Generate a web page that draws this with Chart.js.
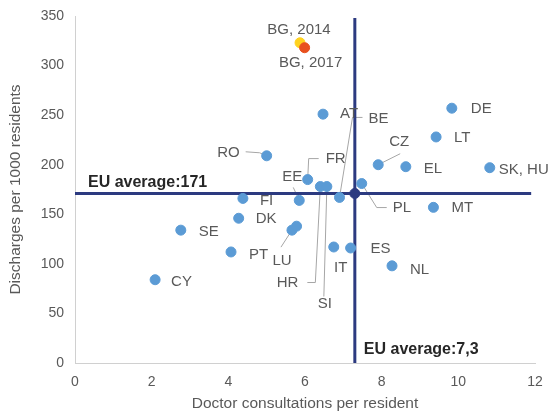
<!DOCTYPE html>
<html>
<head>
<meta charset="utf-8">
<script src="https://cdn.jsdelivr.net/npm/chart.js@4"></script>
<style>
  html, body { margin: 0; padding: 0; background: #fff; }
  #wrap { width: 549px; height: 416px; }
</style>
</head>
<body>
<div id="wrap"><canvas id="grafico"></canvas></div>
<script>
// country values
const paises = ['AT', 'BE', 'CY', 'CZ', 'DE', 'DK', 'EE', 'EL', 'ES', 'FI', 'FR', 'HR', 'IT', 'LT',
                'LU', 'LV', 'MT', 'NL', 'PL', 'PT', 'RO', 'SE', 'SI', 'SK, HU'];
const consultas = [6.47, 6.90, 2.09, 7.91, 9.83, 4.27, 5.85, 8.63, 7.19, 4.38, 6.07, 6.40, 6.75, 9.42,
                   5.66, 5.78, 9.35, 8.27, 7.48, 4.07, 5.00, 2.76, 6.57, 10.82];
const altas = [251, 167, 84, 200, 257, 146, 164, 198, 116, 166, 185, 178, 117, 228,
               134, 138, 157, 98, 181, 112, 209, 134, 178, 197];

const bg2014 = [5.87, 323];
const bg2017 = [5.99, 318];
const mediaConsultas = 7.3;
const mediaAltas = 171;

const ticksX = [0, 2, 4, 6, 8, 10, 12];
const ticksY = [0, 50, 100, 150, 200, 250, 300, 350];

const FONTE = "'Liberation Sans', Arial, sans-serif";
const CINZA = '#595959';
const AZUL = '#5B9BD5';
const NAVY = '#2C3A80';

// where each label sits relative to its point (px), and its leader line
const rotulos = {
  'AT': { dx: 17, dy: 0 },
  'BE': { dx: 29, dy: -79, linha: [[23, -80], [13, -80], [0, 0]] },
  'CY': { dx: 16, dy: 2 },
  'CZ': { dx: 21, dy: -23, al: 'center', linha: [[22, -11], [0, 0]] },
  'DE': { dx: 19, dy: 1 },
  'DK': { dx: 17, dy: 1 },
  'EE': { dx: -7, dy: -24, al: 'center', linha: [[-6, -13], [0, 0]] },
  'EL': { dx: 18, dy: 2 },
  'ES': { dx: 20, dy: 1 },
  'FI': { dx: 17, dy: 2 },
  'FR': { dx: 18, dy: -21, linha: [[11, -21], [1, -21], [0, 0]] },
  'HR': { dx: -22, dy: 96, al: 'right', linha: [[-13, 96], [-5, 96], [0, 0]] },
  'IT': { dx: 7, dy: 21, al: 'center' },
  'LT': { dx: 18, dy: 1 },
  'LU': { dx: -10, dy: 31, al: 'center', linha: [[-11, 17], [0, 0]] },
  'MT': { dx: 18, dy: 1 },
  'NL': { dx: 18, dy: 4 },
  'PL': { dx: 31, dy: 24, linha: [[25, 24], [15, 24], [0, 0]] },
  'PT': { dx: 18, dy: 3 },
  'RO': { dx: -27, dy: -3, al: 'right', linha: [[-21, -4], [-7, -3], [0, 0]] },
  'SE': { dx: 18, dy: 2 },
  'SI': { dx: -2, dy: 117, al: 'center', linha: [[-3, 110], [0, 0]] },
  'SK, HU': { dx: 9, dy: 2 }
};

const pontos = paises.map((p, i) => ({ x: consultas[i], y: altas[i] }));

const rotulosPlugin = {
  id: 'rotulos',
  beforeDatasetsDraw(chart) {
    const ctx = chart.ctx;
    const meta = chart.getDatasetMeta(0);
    ctx.save();
    ctx.strokeStyle = '#A6A6A6';
    ctx.lineWidth = 1;
    paises.forEach((p, i) => {
      const r = rotulos[p];
      if (!r || !r.linha) return;
      const pt = meta.data[i];
      ctx.beginPath();
      r.linha.forEach((c, k) => {
        const x = pt.x + c[0], y = pt.y + c[1];
        if (k === 0) ctx.moveTo(x, y); else ctx.lineTo(x, y);
      });
      ctx.stroke();
    });
    ctx.restore();
  },
  afterDatasetsDraw(chart) {
    const ctx = chart.ctx;
    const meta = chart.getDatasetMeta(0);
    ctx.save();
    ctx.font = '15px ' + FONTE;
    ctx.fillStyle = CINZA;
    ctx.textBaseline = 'middle';
    paises.forEach((p, i) => {
      const r = rotulos[p];
      if (!r) return;
      const pt = meta.data[i];
      ctx.textAlign = r.al || 'left';
      ctx.fillText(p, pt.x + r.dx, pt.y + r.dy);
    });
    const b1 = chart.getDatasetMeta(2).data[0];
    const b2 = chart.getDatasetMeta(1).data[0];
    ctx.textAlign = 'center';
    ctx.fillText('BG, 2014', b1.x - 1, b1.y - 13);
    ctx.fillText('BG, 2017', b2.x + 6, b2.y + 15);

    const sx = chart.scales.x, sy = chart.scales.y;
    ctx.font = 'bold 16px ' + FONTE;
    ctx.fillStyle = '#262626';
    ctx.textAlign = 'left';
    ctx.fillText('EU average:' + mediaAltas, sx.left + 13, sy.getPixelForValue(mediaAltas) - 11);
    ctx.fillText('EU average:' + String(mediaConsultas).replace('.', ','),
      sx.getPixelForValue(mediaConsultas) + 9, sy.bottom - 13);
    ctx.restore();
  }
};

new Chart(document.getElementById('grafico'), {
  type: 'scatter',
  data: {
    datasets: [
      {
        label: 'Países',
        data: pontos,
        backgroundColor: AZUL,
        borderColor: AZUL,
        pointRadius: 5,
        order: 1
      },
      {
        label: 'BG 2017',
        data: [{ x: bg2017[0], y: bg2017[1] }],
        backgroundColor: '#E8501E',
        borderColor: '#E8501E',
        pointRadius: 5,
        order: 0
      },
      {
        label: 'BG 2014',
        data: [{ x: bg2014[0], y: bg2014[1] }],
        backgroundColor: '#FFD21F',
        borderColor: '#FFD21F',
        pointRadius: 5,
        order: 0.5
      },
      {
        label: 'EU',
        data: [{ x: mediaConsultas, y: mediaAltas }],
        backgroundColor: NAVY,
        borderColor: NAVY,
        pointRadius: 5,
        order: 1.5
      },
      {
        label: 'Média altas',
        data: [{ x: 0, y: mediaAltas }, { x: 11.9, y: mediaAltas }],
        showLine: true,
        borderColor: NAVY,
        borderWidth: 3,
        pointRadius: 0,
        order: 2
      },
      {
        label: 'Média consultas',
        data: [{ x: mediaConsultas, y: 0 }, { x: mediaConsultas, y: 348 }],
        showLine: true,
        borderColor: NAVY,
        borderWidth: 3,
        pointRadius: 0,
        order: 2
      }
    ]
  },
  options: {
    responsive: true,
    maintainAspectRatio: false,
    animation: false,
    layout: { padding: { top: 16, right: 14, left: 0, bottom: 0 } },
    plugins: {
      legend: { display: false },
      tooltip: { enabled: false }
    },
    scales: {
      x: {
        type: 'linear',
        min: 0,
        max: 12,
        afterBuildTicks: s => { s.ticks = ticksX.map(v => ({ value: v })); },
        afterFit: s => { s.height = 53; s.paddingLeft = 0; s.paddingRight = 0; },
        grid: { display: false, drawTicks: false },
        border: { color: '#D0D0D0', width: 1 },
        ticks: { color: CINZA, font: { family: FONTE, size: 14 }, padding: 11 },
        title: {
          display: true,
          text: 'Doctor consultations per resident',
          color: CINZA,
          font: { family: FONTE, size: 15.5 },
          padding: { top: 0, bottom: 3 }
        }
      },
      y: {
        type: 'linear',
        min: 0,
        max: 350,
        afterBuildTicks: s => { s.ticks = ticksY.map(v => ({ value: v })); },
        afterFit: s => { s.width = 75; s.paddingTop = 0; s.paddingBottom = 0; },
        grid: { display: false, drawTicks: false },
        border: { color: '#D0D0D0', width: 1 },
        ticks: { color: CINZA, font: { family: FONTE, size: 14 }, padding: 11 },
        title: {
          display: true,
          text: 'Discharges per 1000 residents',
          color: CINZA,
          font: { family: FONTE, size: 15.5 },
          padding: { top: 6, bottom: 0 }
        }
      }
    }
  },
  plugins: [rotulosPlugin]
});
</script>
</body>
</html>
